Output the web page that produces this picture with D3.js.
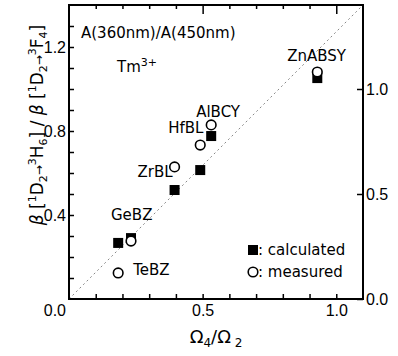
<!DOCTYPE html>
<html>
<head>
<meta charset="utf-8">
<script src="https://cdn.jsdelivr.net/npm/d3@7"></script>
<style>
  body { margin: 0; background: #fff; }
  svg { font-family: "DejaVu Sans", sans-serif; }
</style>
</head>
<body>
<div id="chart"></div>
<script>
// glasses, Omega4/Omega2 and branching ratio (calculated / measured)
const glasses = ["TeBZ", "GeBZ", "ZrBL", "HfBL", "AlBCY", "ZnABSY"];
const omegaRatio = [0.184, 0.232, 0.395, 0.491, 0.532, 0.929];
const calculated = [0.267, 0.290, 0.519, 0.614, 0.776, 1.052];
const measured = [0.124, 0.276, 0.629, 0.733, 0.829, 1.081];

const xTicks = [0.1, 0.2, 0.3, 0.4, 0.5, 0.6, 0.7, 0.8, 0.9, 1.0];
const xTickLabels = [0.0, 0.5, 1.0];
const yTicks = [0.1, 0.2, 0.3, 0.4, 0.5, 0.6, 0.7, 0.8, 0.9, 1.0, 1.1, 1.2, 1.3];
const yTickLabels = [0.0, 0.4, 0.8, 1.2];
const y2TickLabels = [0.0, 0.5, 1.0];

// label offsets from the measured point (dx, dy)
const labelPos = [
    [15, 2],
    [-20, -21],
    [-37, 10],
    [-32, -12],
    [-15, -8],
    [-30, -11]
];

const W = 398, H = 356;
const pLeft = 69, pRight = 363, pTop = 5, pBottom = 299;

var svg = d3.select('#chart').append('svg')
    .attr('width', W)
    .attr('height', H);

var x = d3.scaleLinear().domain([0, 1.1]).range([pLeft, pRight]);
var y = d3.scaleLinear().domain([0, 1.4]).range([pBottom, pTop]);

// diagonal guide
svg.append("line")
    .attr("x1", x(0)).attr("y1", y(0))
    .attr("x2", x(1.1)).attr("y2", y(1.4))
    .attr("stroke", "#888")
    .attr("stroke-width", 1)
    .attr("stroke-dasharray", "2,3");

// bottom axis, ticks point inward
var gx = svg.append("g")
    .attr("transform", "translate(0," + pBottom + ")")
    .call(d3.axisBottom(x).tickValues(xTicks).tickSize(-5).tickFormat(""));
gx.select(".domain").remove();

var gxl = svg.append("g")
    .attr("transform", "translate(0," + pBottom + ")")
    .call(d3.axisBottom(x).tickValues(xTickLabels).tickSize(0).tickPadding(6)
        .tickFormat(d3.format(".1f")));
gxl.select(".domain").remove();
gxl.selectAll("text").style("font-size", "16px").attr("fill", "#000");
gxl.selectAll(".tick").filter(function(d) { return d == 0; }).remove();

// top axis
var gt = svg.append("g")
    .attr("transform", "translate(0," + pTop + ")")
    .call(d3.axisTop(x).tickValues(xTicks).tickSize(-4).tickFormat(""));
gt.select(".domain").remove();
gt.selectAll(".tick line").filter(function(d) { return d == 0.5 || d == 1.0; }).attr("y2", 9);

// left axis
var gy = svg.append("g")
    .attr("transform", "translate(" + pLeft + ",0)")
    .call(d3.axisLeft(y).tickValues(yTicks).tickSize(-5).tickFormat(""));
gy.select(".domain").remove();

var gyl = svg.append("g")
    .attr("transform", "translate(" + pLeft + ",0)")
    .call(d3.axisLeft(y).tickValues(yTickLabels).tickSize(0).tickPadding(3)
        .tickFormat(d3.format(".1f")));
gyl.select(".domain").remove();
gyl.selectAll("text").style("font-size", "16px").attr("fill", "#000");
// the origin label sits below the corner
gyl.selectAll(".tick text").filter(function(d) { return d == 0; }).attr("dy", "1.05em");

// right axis
var gr = svg.append("g")
    .attr("transform", "translate(" + pRight + ",0)")
    .call(d3.axisRight(y).tickValues(y2TickLabels).tickSize(-6).tickPadding(3)
        .tickFormat(d3.format(".1f")));
gr.select(".domain").remove();
gr.selectAll("text").style("font-size", "16px").attr("fill", "#000");

svg.selectAll(".tick line").attr("stroke", "#000").attr("stroke-width", 1.5);

// frame
svg.append("rect")
    .attr("x", pLeft).attr("y", pTop)
    .attr("width", pRight - pLeft).attr("height", pBottom - pTop)
    .attr("fill", "none")
    .attr("stroke", "#000")
    .attr("stroke-width", 2);

// calculated - filled squares
svg.selectAll(".calc")
    .data(glasses)
    .enter()
    .append("rect")
    .attr("class", "calc")
    .attr("x", function(d, i) { return x(omegaRatio[i]) - 5; })
    .attr("y", function(d, i) { return y(calculated[i]) - 5; })
    .attr("width", 10)
    .attr("height", 10)
    .attr("fill", "#000");

// measured - open circles
svg.selectAll(".meas")
    .data(glasses)
    .enter()
    .append("circle")
    .attr("class", "meas")
    .attr("cx", function(d, i) { return x(omegaRatio[i]); })
    .attr("cy", function(d, i) { return y(measured[i]); })
    .attr("r", 4.8)
    .attr("fill", "#fff")
    .attr("stroke", "#000")
    .attr("stroke-width", 1.6);

// glass names
svg.selectAll(".name")
    .data(glasses)
    .enter()
    .append("text")
    .attr("class", "name")
    .attr("x", function(d, i) { return x(omegaRatio[i]) + labelPos[i][0]; })
    .attr("y", function(d, i) { return y(measured[i]) + labelPos[i][1]; })
    .style("font-size", "15px")
    .text(function(d) { return d; });

// annotations
svg.append("text")
    .attr("x", 81).attr("y", 38)
    .style("font-size", "15px")
    .text("A(360nm)/A(450nm)");

var tm = svg.append("text")
    .attr("x", 117).attr("y", 72)
    .style("font-size", "15px");
tm.append("tspan").text("Tm");
tm.append("tspan").attr("dy", -6).style("font-size", "11px").text("3+");

// legend
svg.append("rect")
    .attr("x", 248).attr("y", 245)
    .attr("width", 10).attr("height", 10)
    .attr("fill", "#000");
svg.append("text")
    .attr("x", 258).attr("y", 255)
    .style("font-size", "15px")
    .text(": calculated");
svg.append("circle")
    .attr("cx", 253).attr("cy", 272)
    .attr("r", 4.8)
    .attr("fill", "#fff")
    .attr("stroke", "#000")
    .attr("stroke-width", 1.6);
svg.append("text")
    .attr("x", 258).attr("y", 277)
    .style("font-size", "15px")
    .text(": measured");

// x title
var xt = svg.append("text")
    .attr("x", 216).attr("y", 343)
    .attr("text-anchor", "middle")
    .style("font-size", "18px");
xt.append("tspan").text("Ω");
xt.append("tspan").attr("dy", 4).style("font-size", "12px").text("4");
xt.append("tspan").attr("dy", -4).text("/Ω");
xt.append("tspan").attr("dy", 4).style("font-size", "12px").text(" 2");

// y title
var yt = svg.append("text")
    .attr("transform", "translate(43,125) rotate(-90)")
    .attr("text-anchor", "middle")
    .style("font-size", "17px");
function sup(t) { yt.append("tspan").attr("dy", -7).style("font-size", "11px").text(t); }
function sub(t) { yt.append("tspan").attr("dy", 4).style("font-size", "11px").text(t); }
function norm(t, dy) { yt.append("tspan").attr("dy", dy).text(t); }
yt.append("tspan").style("font-style", "italic").text("β");
norm(" [", 0); sup("1"); norm("D", 7); sub("2");
yt.append("tspan").attr("dy", -4).style("font-size", "12px").text("→");
sup("3"); norm("H", 7); sub("6");
norm("] / ", -4);
yt.append("tspan").style("font-style", "italic").text("β");
norm(" [", 0); sup("1"); norm("D", 7); sub("2");
yt.append("tspan").attr("dy", -4).style("font-size", "12px").text("→");
sup("3"); norm("F", 7); sub("4");
norm("]", -4);
</script>
</body>
</html>
